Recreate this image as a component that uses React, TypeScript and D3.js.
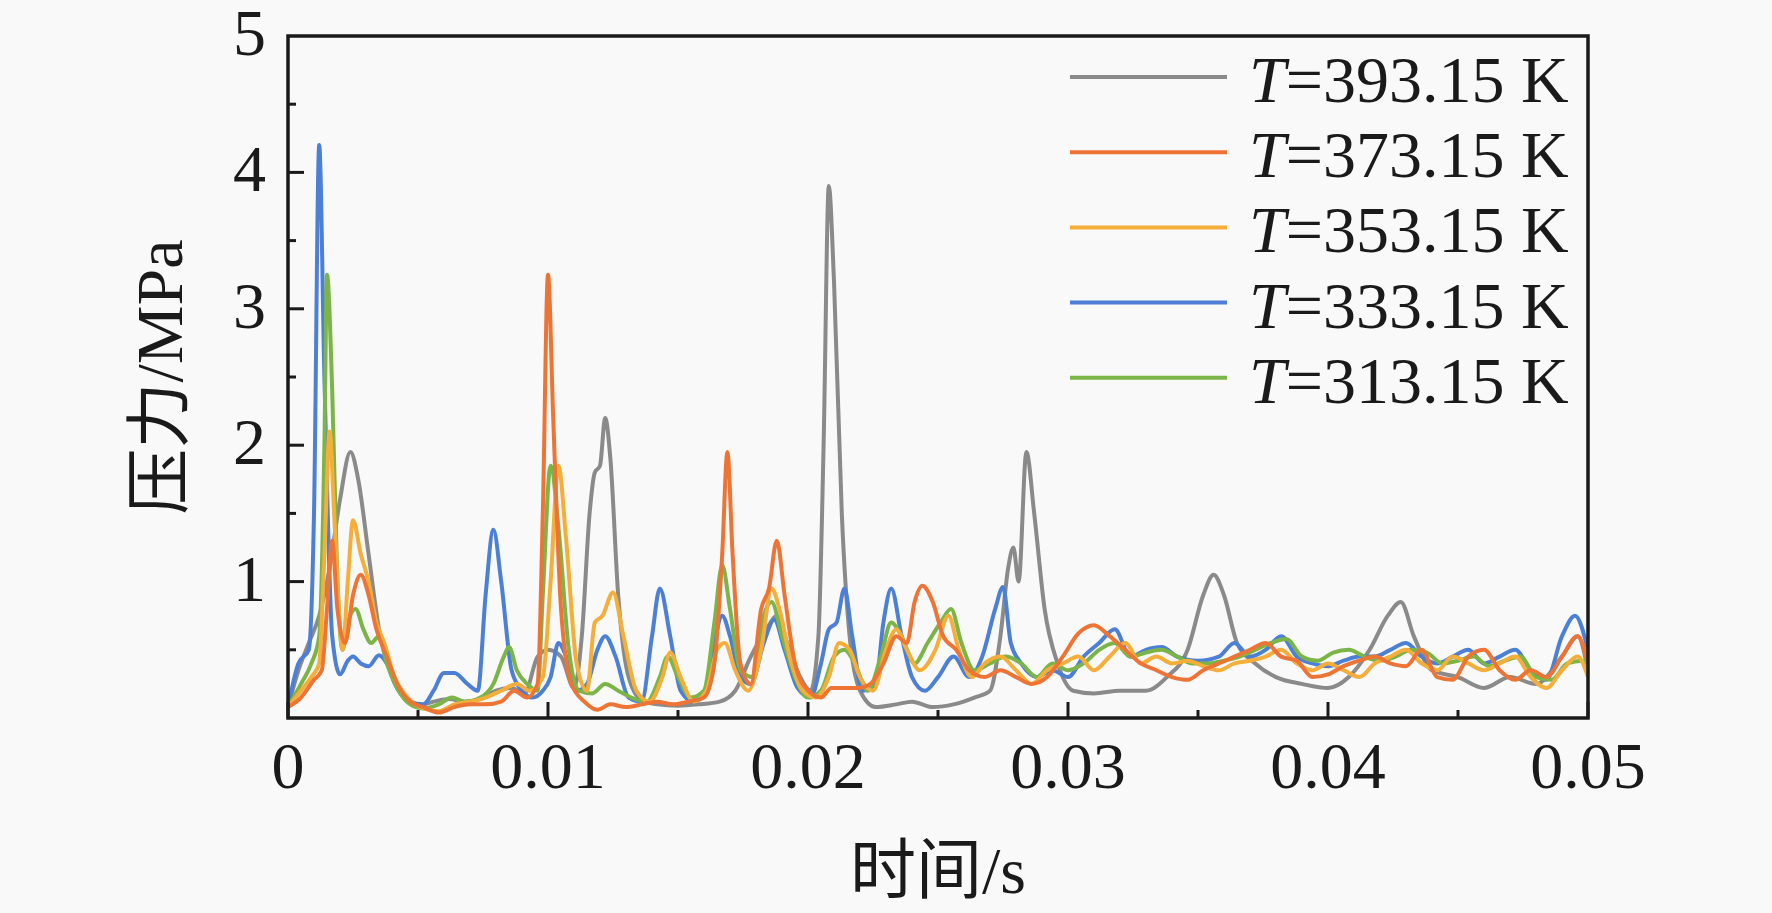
import React from "react";
import * as d3 from "d3";

const W = 1772;
const H = 913;

const seriesNames = ["393.15", "373.15", "353.15", "333.15", "313.15"];
const seriesColors = ["#8a8a8a", "#ee7436", "#f5ae3a", "#4c7fd6", "#7bb547"];

const xTicks = [0, 0.01, 0.02, 0.03, 0.04, 0.05];
const xTickLabels = ["0", "0.01", "0.02", "0.03", "0.04", "0.05"];
const yTicks = [1, 2, 3, 4, 5];
const yTickLabels = ["1", "2", "3", "4", "5"];

// T = 393.15 K
const s393: [number, number][] = [
  [0, 0.08], [0.0004, 0.35], [0.0008, 0.55], [0.0012, 0.75], [0.0016, 1.1], [0.002, 1.6],
  [0.0024, 1.95], [0.0027, 1.75], [0.0031, 1.2], [0.0035, 0.65], [0.004, 0.3], [0.0045, 0.14],
  [0.005, 0.09], [0.0056, 0.12], [0.0062, 0.14], [0.0068, 0.12], [0.0074, 0.14], [0.008, 0.2],
  [0.0086, 0.22], [0.0091, 0.18], [0.0096, 0.45], [0.01, 0.5], [0.0105, 0.45], [0.011, 0.22],
  [0.0113, 0.6], [0.0116, 1.5], [0.0118, 1.8], [0.012, 1.85], [0.0122, 2.2], [0.0124, 1.9],
  [0.0127, 0.9], [0.0131, 0.3], [0.0136, 0.13], [0.0142, 0.1], [0.015, 0.09], [0.0158, 0.1],
  [0.0166, 0.12], [0.0172, 0.2], [0.0178, 0.45], [0.0184, 0.65], [0.0188, 0.75], [0.0192, 0.55],
  [0.0197, 0.3], [0.0201, 0.2], [0.0204, 0.6], [0.0206, 2.0], [0.0208, 3.9], [0.021, 3.2],
  [0.0213, 1.5], [0.0216, 0.6], [0.022, 0.2], [0.0226, 0.08], [0.0234, 0.1], [0.024, 0.12],
  [0.0248, 0.08], [0.0256, 0.1], [0.0264, 0.15], [0.027, 0.2], [0.0274, 0.6], [0.0277, 1.1],
  [0.0279, 1.25], [0.0281, 1.0], [0.0284, 1.95], [0.0287, 1.5], [0.0291, 0.8], [0.0296, 0.4],
  [0.0302, 0.2], [0.031, 0.18], [0.032, 0.2], [0.033, 0.2], [0.0338, 0.3], [0.0346, 0.5],
  [0.0352, 0.9], [0.0356, 1.05], [0.036, 0.9], [0.0365, 0.55], [0.0372, 0.4], [0.038, 0.3],
  [0.039, 0.25], [0.04, 0.22], [0.0408, 0.3], [0.0416, 0.5], [0.0423, 0.75], [0.0428, 0.85],
  [0.0433, 0.6], [0.044, 0.35], [0.045, 0.3], [0.046, 0.22], [0.047, 0.3], [0.048, 0.25],
  [0.049, 0.45], [0.0496, 0.6], [0.05, 0.35],
];

// T = 373.15 K
const s373: [number, number][] = [
  [0, 0.08], [0.0005, 0.15], [0.001, 0.28], [0.0013, 0.35], [0.0015, 0.8], [0.0017, 1.3],
  [0.0019, 0.8], [0.0022, 0.55], [0.0025, 0.9], [0.0028, 1.05], [0.0031, 0.9], [0.0034, 0.65],
  [0.0038, 0.45], [0.0042, 0.25], [0.0047, 0.12], [0.0052, 0.08], [0.0058, 0.04], [0.0064, 0.08],
  [0.007, 0.1], [0.0076, 0.1], [0.0082, 0.12], [0.0087, 0.2], [0.0092, 0.15], [0.0096, 0.25],
  [0.0098, 1.5], [0.01, 3.25], [0.0102, 2.2], [0.0105, 0.8], [0.0109, 0.25], [0.0114, 0.12],
  [0.0119, 0.06], [0.0124, 0.1], [0.013, 0.08], [0.0136, 0.1], [0.0142, 0.12], [0.0148, 0.1],
  [0.0154, 0.12], [0.016, 0.15], [0.0164, 0.4], [0.0167, 1.2], [0.0169, 1.95], [0.0171, 1.2],
  [0.0174, 0.4], [0.0178, 0.25], [0.0182, 0.8], [0.0185, 0.95], [0.0188, 1.3], [0.0191, 0.9],
  [0.0195, 0.4], [0.02, 0.2], [0.0205, 0.15], [0.0209, 0.22], [0.0214, 0.22], [0.0219, 0.22],
  [0.0224, 0.25], [0.0229, 0.4], [0.0234, 0.6], [0.0238, 0.55], [0.0241, 0.85], [0.0244, 0.97],
  [0.0248, 0.85], [0.0252, 0.6], [0.0257, 0.5], [0.0262, 0.35], [0.0268, 0.3], [0.0274, 0.35],
  [0.028, 0.3], [0.0286, 0.25], [0.0292, 0.3], [0.0298, 0.45], [0.0304, 0.62], [0.031, 0.68],
  [0.0316, 0.6], [0.0322, 0.5], [0.0328, 0.4], [0.0334, 0.35], [0.034, 0.3], [0.0346, 0.28],
  [0.0352, 0.35], [0.0358, 0.4], [0.0364, 0.45], [0.037, 0.5], [0.0376, 0.55], [0.0382, 0.45],
  [0.0388, 0.42], [0.0394, 0.3], [0.04, 0.32], [0.0406, 0.38], [0.0412, 0.42], [0.0418, 0.45],
  [0.0424, 0.4], [0.043, 0.38], [0.0436, 0.5], [0.0442, 0.3], [0.0448, 0.28], [0.0454, 0.45],
  [0.046, 0.5], [0.0466, 0.35], [0.0472, 0.28], [0.0478, 0.35], [0.0484, 0.3], [0.049, 0.45],
  [0.0496, 0.6], [0.05, 0.4],
];

// T = 353.15 K
const s353: [number, number][] = [
  [0, 0.08], [0.0005, 0.2], [0.0009, 0.3], [0.0012, 0.4], [0.0014, 1.2], [0.0016, 2.1],
  [0.0018, 1.4], [0.0021, 0.5], [0.0023, 1.0], [0.0025, 1.45], [0.0028, 1.2], [0.0031, 1.0],
  [0.0034, 0.7], [0.0037, 0.55], [0.0041, 0.3], [0.0046, 0.15], [0.0052, 0.07], [0.0058, 0.05],
  [0.0064, 0.1], [0.007, 0.12], [0.0076, 0.15], [0.0082, 0.2], [0.0088, 0.25], [0.0093, 0.2],
  [0.0098, 0.3], [0.0101, 1.0], [0.0104, 1.85], [0.0107, 1.3], [0.0111, 0.4], [0.0115, 0.2],
  [0.0118, 0.7], [0.0121, 0.75], [0.0125, 0.92], [0.0129, 0.6], [0.0134, 0.2], [0.0139, 0.12],
  [0.0144, 0.3], [0.0147, 0.48], [0.0151, 0.3], [0.0156, 0.12], [0.0161, 0.2], [0.0165, 0.5],
  [0.0168, 0.55], [0.0172, 0.35], [0.0177, 0.2], [0.0182, 0.5], [0.0186, 0.95], [0.0189, 0.8],
  [0.0193, 0.45], [0.0198, 0.2], [0.0203, 0.15], [0.0208, 0.3], [0.0212, 0.55], [0.0216, 0.5],
  [0.022, 0.3], [0.0225, 0.2], [0.023, 0.5], [0.0234, 0.65], [0.0238, 0.5], [0.0243, 0.35],
  [0.0249, 0.5], [0.0254, 0.75], [0.0258, 0.5], [0.0263, 0.3], [0.0268, 0.4], [0.0274, 0.45],
  [0.028, 0.35], [0.0286, 0.25], [0.0292, 0.35], [0.0298, 0.4], [0.0304, 0.45], [0.031, 0.35],
  [0.0316, 0.45], [0.0322, 0.55], [0.0328, 0.4], [0.0334, 0.45], [0.034, 0.4], [0.0346, 0.42],
  [0.0352, 0.38], [0.0358, 0.35], [0.0364, 0.4], [0.037, 0.42], [0.0376, 0.45], [0.0382, 0.5],
  [0.0388, 0.4], [0.0394, 0.35], [0.04, 0.4], [0.0406, 0.35], [0.0412, 0.3], [0.0418, 0.4],
  [0.0424, 0.45], [0.043, 0.5], [0.0436, 0.4], [0.0442, 0.35], [0.0448, 0.45], [0.0454, 0.4],
  [0.046, 0.35], [0.0466, 0.4], [0.0472, 0.45], [0.0478, 0.3], [0.0484, 0.22], [0.049, 0.35],
  [0.0496, 0.45], [0.05, 0.3],
];

// T = 333.15 K
const s333: [number, number][] = [
  [0, 0.08], [0.0004, 0.4], [0.0008, 0.5], [0.001, 1.5], [0.0012, 4.2], [0.0014, 2.5],
  [0.0017, 0.6], [0.002, 0.32], [0.0023, 0.42], [0.0025, 0.45], [0.0028, 0.4], [0.0031, 0.38],
  [0.0035, 0.46], [0.0038, 0.4], [0.0042, 0.22], [0.0047, 0.12], [0.0052, 0.1], [0.0056, 0.2],
  [0.006, 0.33], [0.0064, 0.33], [0.0069, 0.25], [0.0073, 0.2], [0.0076, 0.9], [0.0079, 1.38],
  [0.0082, 1.0], [0.0086, 0.35], [0.009, 0.2], [0.0094, 0.15], [0.0098, 0.2], [0.0101, 0.3],
  [0.0104, 0.55], [0.0107, 0.45], [0.0111, 0.2], [0.0115, 0.25], [0.0119, 0.5], [0.0122, 0.6],
  [0.0126, 0.45], [0.0131, 0.15], [0.0136, 0.12], [0.014, 0.6], [0.0143, 0.95], [0.0147, 0.6],
  [0.0151, 0.2], [0.0156, 0.12], [0.0161, 0.2], [0.0164, 0.55], [0.0167, 0.75], [0.017, 0.6],
  [0.0174, 0.3], [0.0178, 0.25], [0.0183, 0.55], [0.0187, 0.72], [0.0191, 0.5], [0.0196, 0.22],
  [0.0201, 0.15], [0.0205, 0.4], [0.0208, 0.65], [0.0211, 0.7], [0.0214, 0.95], [0.0217, 0.6],
  [0.0221, 0.2], [0.0226, 0.25], [0.0229, 0.7], [0.0232, 0.95], [0.0236, 0.6], [0.024, 0.3],
  [0.0245, 0.2], [0.025, 0.3], [0.0256, 0.45], [0.0262, 0.3], [0.0267, 0.45], [0.0272, 0.8],
  [0.0275, 0.96], [0.0278, 0.55], [0.0282, 0.4], [0.0288, 0.3], [0.0294, 0.35], [0.03, 0.3],
  [0.0306, 0.45], [0.0312, 0.55], [0.0318, 0.65], [0.0324, 0.45], [0.033, 0.5], [0.0336, 0.52],
  [0.0342, 0.45], [0.035, 0.42], [0.0358, 0.45], [0.0364, 0.55], [0.037, 0.45], [0.0376, 0.5],
  [0.0382, 0.6], [0.0388, 0.45], [0.0394, 0.4], [0.04, 0.38], [0.0406, 0.42], [0.0412, 0.45],
  [0.0418, 0.45], [0.0424, 0.5], [0.043, 0.55], [0.0436, 0.45], [0.0442, 0.4], [0.0448, 0.45],
  [0.0454, 0.5], [0.046, 0.4], [0.0466, 0.45], [0.0472, 0.5], [0.0478, 0.35], [0.0484, 0.28],
  [0.049, 0.6], [0.0495, 0.75], [0.05, 0.5],
];

// T = 313.15 K
const s313: [number, number][] = [
  [0, 0.08], [0.0005, 0.25], [0.0009, 0.4], [0.0012, 0.6], [0.0014, 2.0], [0.0015, 3.25],
  [0.0017, 2.4], [0.0019, 1.0], [0.0021, 0.5], [0.0023, 0.7], [0.0026, 0.8], [0.0029, 0.65],
  [0.0032, 0.55], [0.0035, 0.6], [0.0038, 0.4], [0.0042, 0.22], [0.0047, 0.1], [0.0052, 0.07],
  [0.0058, 0.1], [0.0063, 0.15], [0.0068, 0.12], [0.0074, 0.15], [0.0079, 0.25], [0.0083, 0.45],
  [0.0085, 0.52], [0.0088, 0.35], [0.0092, 0.25], [0.0096, 0.2], [0.0098, 0.9], [0.0101, 1.85],
  [0.0104, 1.4], [0.0108, 0.5], [0.0112, 0.2], [0.0117, 0.18], [0.0122, 0.25], [0.0127, 0.2],
  [0.0132, 0.15], [0.0138, 0.12], [0.0143, 0.3], [0.0146, 0.45], [0.015, 0.3], [0.0155, 0.15],
  [0.016, 0.2], [0.0164, 0.7], [0.0167, 1.12], [0.017, 0.8], [0.0174, 0.35], [0.0179, 0.3],
  [0.0183, 0.75], [0.0186, 0.85], [0.019, 0.6], [0.0195, 0.3], [0.02, 0.15], [0.0205, 0.2],
  [0.021, 0.45], [0.0214, 0.5], [0.0218, 0.4], [0.0223, 0.2], [0.0228, 0.45], [0.0232, 0.7],
  [0.0236, 0.6], [0.0241, 0.4], [0.0246, 0.55], [0.0251, 0.7], [0.0255, 0.8], [0.0259, 0.55],
  [0.0264, 0.35], [0.027, 0.4], [0.0276, 0.45], [0.0282, 0.4], [0.0288, 0.3], [0.0294, 0.4],
  [0.03, 0.35], [0.0306, 0.4], [0.0312, 0.5], [0.0318, 0.55], [0.0324, 0.45], [0.033, 0.48],
  [0.0336, 0.5], [0.0342, 0.45], [0.0348, 0.4], [0.0354, 0.4], [0.036, 0.42], [0.0366, 0.45],
  [0.0372, 0.5], [0.0378, 0.55], [0.0384, 0.58], [0.039, 0.45], [0.0396, 0.42], [0.0402, 0.48],
  [0.0408, 0.5], [0.0414, 0.45], [0.042, 0.42], [0.0426, 0.45], [0.0432, 0.5], [0.0438, 0.48],
  [0.0444, 0.4], [0.045, 0.42], [0.0456, 0.45], [0.0462, 0.38], [0.0468, 0.42], [0.0474, 0.45],
  [0.048, 0.3], [0.0486, 0.28], [0.0492, 0.4], [0.0498, 0.42], [0.05, 0.35],
];

const allSeries = [s393, s373, s353, s333, s313];
const drawOrder = [0, 3, 4, 2, 1];

const SERIF = "'Liberation Serif', 'Times New Roman', 'Noto Sans CJK SC', serif";

export default function App() {
  const left = 288, right = 1588, top = 36, bottom = 718;
  const x = d3.scaleLinear().domain([0, 0.05]).range([left, right]);
  const y = d3.scaleLinear().domain([0, 5]).range([bottom, top]);
  const line = d3
    .line<[number, number]>()
    .x((d) => x(d[0]))
    .y((d) => y(d[1]))
    .curve(d3.curveMonotoneX);

  const xMinor = d3.range(0, 0.0501, 0.005);
  const yMinor = d3.range(0.5, 5, 0.5);
  const fs = 66;

  return (
    <svg
      width={W}
      height={H}
      style={{ position: "absolute", left: 0, top: 0, display: "block" }}
      fontFamily={SERIF}
    >
      <rect x={0} y={0} width={W} height={H} fill="#f9f9f9" />
      <defs>
        <clipPath id="plotclip">
          <rect x={left} y={top} width={right - left} height={bottom - top} />
        </clipPath>
      </defs>
      <g clipPath="url(#plotclip)">
        {drawOrder.map((i) => (
          <path
            key={i}
            d={line(allSeries[i]) || ""}
            fill="none"
            stroke={seriesColors[i]}
            strokeWidth={4}
            strokeLinejoin="round"
          />
        ))}
      </g>
      <rect
        x={left}
        y={top}
        width={right - left}
        height={bottom - top}
        fill="none"
        stroke="#1a1a1a"
        strokeWidth={3.5}
      />
      {xMinor.map((t, i) => {
        const major = i % 2 === 0;
        return (
          <line
            key={"xm" + i}
            x1={x(t)}
            x2={x(t)}
            y1={bottom}
            y2={bottom - (major ? 16 : 8)}
            stroke="#1a1a1a"
            strokeWidth={3}
          />
        );
      })}
      {yMinor.map((v, i) => {
        const major = Math.abs(v - Math.round(v)) < 1e-6;
        return (
          <line
            key={"ym" + i}
            x1={left}
            x2={left + (major ? 16 : 8)}
            y1={y(v)}
            y2={y(v)}
            stroke="#1a1a1a"
            strokeWidth={3}
          />
        );
      })}
      {xTicks.map((t, i) => (
        <text key={"xl" + i} x={x(t)} y={788} fontSize={fs} textAnchor="middle" fill="#1a1a1a">
          {xTickLabels[i]}
        </text>
      ))}
      {yTicks.map((v, i) => (
        <text key={"yl" + i} x={266} y={y(v) + 19} fontSize={fs} textAnchor="end" fill="#1a1a1a">
          {yTickLabels[i]}
        </text>
      ))}
      <text x={(left + right) / 2} y={893} fontSize={fs} textAnchor="middle" fill="#1a1a1a">
        时间/s
      </text>
      <text
        transform={`translate(182, ${(top + bottom) / 2}) rotate(-90)`}
        fontSize={fs}
        textAnchor="middle"
        fill="#1a1a1a"
      >
        压力/MPa
      </text>
      {seriesNames.map((n, i) => {
        const ly = 77 + i * 75.2;
        return (
          <g key={"lg" + i}>
            <line x1={1070} x2={1227} y1={ly} y2={ly} stroke={seriesColors[i]} strokeWidth={4} />
            <text x={1249} y={ly + 25} fontSize={fs} fill="#1a1a1a">
              <tspan fontStyle="italic">T</tspan>
              {"=" + n + " K"}
            </text>
          </g>
        );
      })}
    </svg>
  );
}
